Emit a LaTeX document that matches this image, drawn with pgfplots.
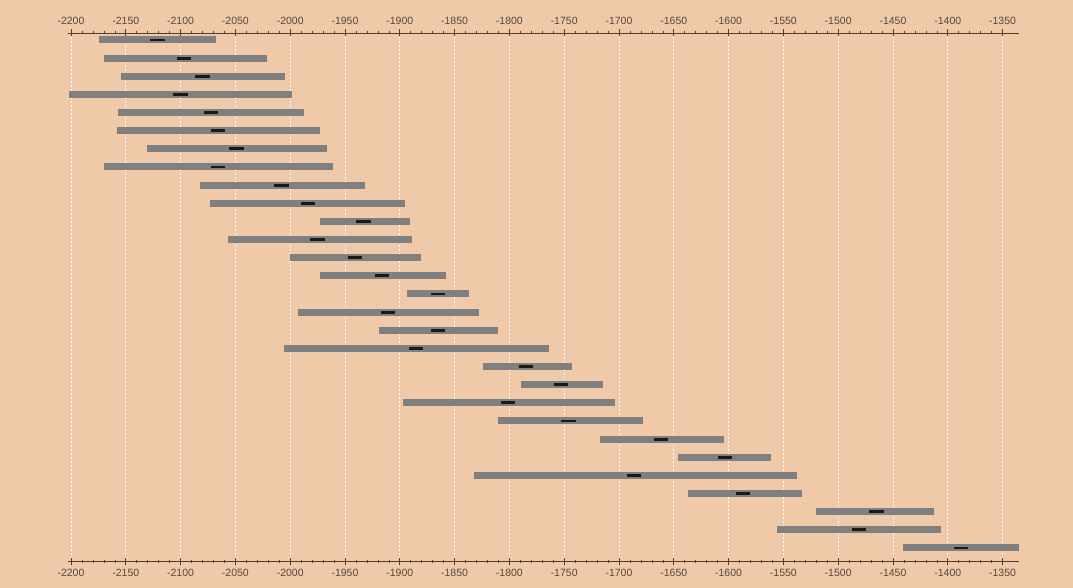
\documentclass[border=0pt]{standalone}
\usepackage{fontspec}
\setmainfont{Liberation Sans}
\usepackage{pgfplots}
\pgfplotsset{compat=1.18}
\usepackage{pgfplotstable}
\definecolor{bg}{RGB}{240,201,168}
\definecolor{bargray}{RGB}{128,128,128}
\definecolor{axbrown}{RGB}{85,60,40}
\definecolor{ticktxt}{RGB}{85,72,62}
\pgfplotstableread{
y lo hi mid
1 -2174 -2068 -2121
2 -2170 -2021 -2097
3 -2154 -2005 -2080
4 -2202 -1998 -2100
5 -2157 -1987 -2072
6 -2158 -1973 -2066
7 -2131 -1966 -2049
8 -2170 -1961 -2066
9 -2082 -1932 -2008
10 -2073 -1895 -1984
11 -1973 -1891 -1933
12 -2057 -1889 -1975
13 -2000 -1881 -1941
14 -1973 -1858 -1916
15 -1893 -1837 -1865
16 -1993 -1828 -1911
17 -1919 -1810 -1865
18 -2006 -1764 -1885
19 -1824 -1743 -1785
20 -1789 -1715 -1753
21 -1897 -1704 -1801
22 -1810 -1678 -1746
23 -1717 -1604 -1662
24 -1646 -1561 -1603
25 -1832 -1538 -1686
26 -1637 -1533 -1587
27 -1520 -1413 -1465
28 -1556 -1406 -1481
29 -1441 -1335 -1388
}\bars
\pgfplotsset{common/.style={width=951.3pt,height=528pt,scale only axis,
  xmin=-2203,xmax=-1335,ymin=0.614,ymax=29.717,y dir=reverse,
  at={(0,0)},anchor=south west, axis y line=none,
  xtick={-2200,-2150,...,-1350}, minor x tick num=4,
  tick align=center, major tick length=7pt, minor tick length=3pt,
  every tick/.style={axbrown, line width=0.6pt},
  x axis line style={axbrown, line width=0.8pt},
  ticklabel style={font=\fontsize{10.5}{12}\selectfont, text=ticktxt},
  /pgf/number format/1000 sep={},
  /pgf/number format/assume math mode=true}}
\begin{document}
\begin{tikzpicture}[x=1pt,y=1pt]
\fill[bg] (-67.7,-27) rectangle (1005.3,561);
\begin{axis}[common, axis x line*=bottom, xmajorgrids,
  xticklabel style={yshift=-1pt},
  major grid style={white, line width=0.7pt, dash pattern=on 2pt off 2pt}]
\addplot[draw=none, mark=none, error bars/.cd, x dir=plus, x explicit, error mark=none,
  error bar style={draw=bargray, line width=7pt}]
  table[x=lo, y=y, x error expr=\thisrow{hi}-\thisrow{lo}] {\bars};
\addplot[draw=none, mark=none, error bars/.cd, x dir=both, x fixed=6.5, error mark=none,
  error bar style={draw=black!90, line width=2.8pt}]
  table[x=mid, y=y] {\bars};
\end{axis}
\begin{axis}[common, axis x line*=top, xticklabel style={yshift=1pt}]
\addplot[draw=none] coordinates {(-2000,1)};
\end{axis}
\pgfresetboundingbox
\path (-67.7,-27) rectangle (1005.3,561);
\end{tikzpicture}
\end{document}
